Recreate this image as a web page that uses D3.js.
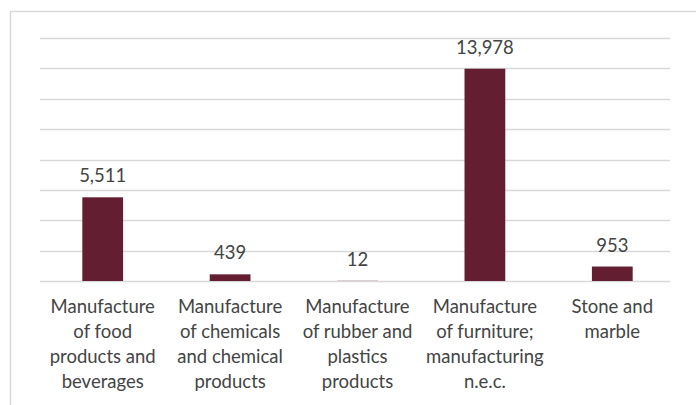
<!DOCTYPE html>
<html lang="en">
<head>
<meta charset="UTF-8">
<title>Manufacturing chart</title>
<script src="https://cdn.jsdelivr.net/npm/d3@7"></script>
<style>
  body { margin: 0; background: #fff; }
  text { font-family: Lato, "Open Sans", sans-serif; fill: #444; }
</style>
</head>
<body>
<div id="chart"></div>
<script>
// data
const categories = [
  ["Manufacture", "of food", "products and", "beverages"],
  ["Manufacture", "of chemicals", "and chemical", "products"],
  ["Manufacture", "of rubber and", "plastics", "products"],
  ["Manufacture", "of furniture;", "manufacturing", "n.e.c."],
  ["Stone and", "marble"]
];
const values = [5511, 439, 12, 13978, 953];
const yTicks = [0, 2000, 4000, 6000, 8000, 10000, 12000, 14000, 16000];

const width = 696, height = 405;
const margin = { left: 39, right: 20, top: 38, bottom: 124 };
const gridLeft = 40, gridRight = 670;

const svg = d3.select("#chart").append("svg")
  .attr("width", width)
  .attr("height", height);

// outer chart border (cropped at right and bottom)
svg.append("rect")
  .attr("x", 10.5).attr("y", 11.5)
  .attr("width", 700).attr("height", 420)
  .attr("fill", "none")
  .attr("stroke", "#d9d9d9")
  .attr("stroke-width", 1.5);

const x = d3.scaleBand()
  .domain(d3.range(values.length))
  .range([margin.left, width - margin.right])
  .paddingInner(0.68)
  .paddingOuter(0.34);

const y = d3.scaleLinear()
  .domain([0, 16000])
  .range([height - margin.bottom, margin.top]);

// gridlines
svg.append("g")
  .selectAll("line")
  .data(yTicks)
  .join("line")
  .attr("x1", gridLeft)
  .attr("x2", gridRight)
  .attr("y1", d => Math.round(y(d)) + 0.5)
  .attr("y2", d => Math.round(y(d)) + 0.5)
  .attr("stroke", "#d9d9d9")
  .attr("stroke-width", 1.5);

// bars
svg.append("g")
  .selectAll("rect")
  .data(values)
  .join("rect")
  .attr("x", (d, i) => x(i))
  .attr("width", x.bandwidth())
  .attr("y", d => y(d))
  .attr("height", d => y(0) - y(d))
  .attr("fill", "#641e32");

// value labels
svg.append("g")
  .selectAll("text")
  .data(values)
  .join("text")
  .attr("x", (d, i) => x(i) + x.bandwidth() / 2)
  .attr("y", d => y(d) - 15)
  .attr("text-anchor", "middle")
  .attr("font-size", 18.5)
  .text(d => d3.format(",")(d));

// category labels
const cat = svg.append("g")
  .selectAll("text")
  .data(categories)
  .join("text")
  .attr("x", (d, i) => x(i) + x.bandwidth() / 2)
  .attr("y", y(0) + 32)
  .attr("text-anchor", "middle")
  .attr("font-size", 18.5);

cat.selectAll("tspan")
  .data(d => d)
  .join("tspan")
  .attr("x", function() { return this.parentNode.getAttribute("x"); })
  .attr("dy", (d, i) => i === 0 ? 0 : 25)
  .text(d => d);
</script>
</body>
</html>
